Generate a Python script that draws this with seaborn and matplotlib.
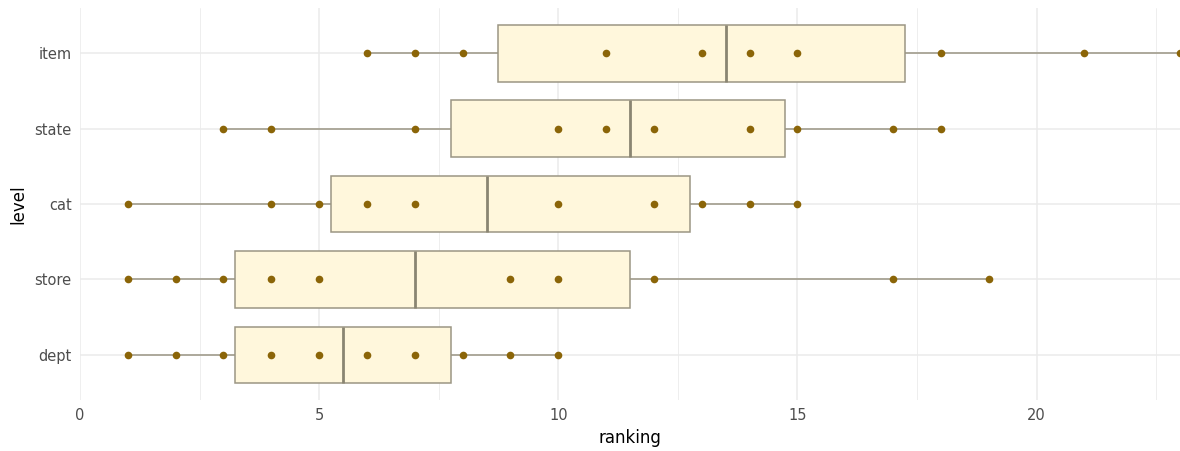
import numpy as np
import pandas as pd
import matplotlib
matplotlib.use("Agg")
import matplotlib.pyplot as plt
from matplotlib.ticker import MultipleLocator
import seaborn as sns

# rankings per aggregation level
levels = ["item", "state", "cat", "store", "dept"]
item_rank = [6, 7, 8, 11, 13, 14, 15, 18, 21, 23]
state_rank = [3, 4, 7, 10, 11, 12, 14, 15, 17, 18]
cat_rank = [1, 4, 5, 6, 7, 10, 12, 13, 14, 15]
store_rank = [1, 2, 3, 4, 5, 9, 10, 12, 17, 19]
dept_rank = [1, 2, 3, 4, 5, 6, 7, 8, 9, 10]

ranks = [item_rank, state_rank, cat_rank, store_rank, dept_rank]
df = pd.DataFrame({
    "level": np.repeat(levels, [len(r) for r in ranks]),
    "ranking": np.concatenate(ranks),
})

sns.set_style("white")
plt.rcParams["font.family"] = ["DejaVu Sans"]

fig = plt.figure(figsize=(11.8, 4.51), dpi=100)
ax = fig.add_axes([80 / 1180, 1 - 400 / 451, 1 - 80 / 1180, 392 / 451])

edge = "#9B9684"
sns.boxplot(data=df, x="ranking", y="level", order=levels, orient="h",
            width=0.75, whis=1.5, showfliers=False, showcaps=False,
            color="#FFF7DC", linecolor=edge, linewidth=1.1, saturation=1,
            medianprops={"color": "#8A8572", "linewidth": 2}, ax=ax)
sns.stripplot(data=df, x="ranking", y="level", order=levels, orient="h",
              jitter=False, color="#8B6508", size=5.5, ax=ax, zorder=5)

ax.set_xlim(0, 23)
ax.set_ylim(4.6, -0.6)
ax.xaxis.set_major_locator(MultipleLocator(5))
ax.xaxis.set_minor_locator(MultipleLocator(2.5))
ax.grid(True, which="major", axis="both", color="#EBEBEB", linewidth=1.1)
ax.grid(True, which="minor", axis="x", color="#EBEBEB", linewidth=0.6)
ax.set_axisbelow(True)
for s in ax.spines.values():
    s.set_visible(False)
ax.tick_params(axis="both", which="both", length=0, labelsize=10.5,
               labelcolor="#4D4D4D", pad=6)
ax.set_xlabel("ranking", fontsize=12, color="black", labelpad=4)
ax.set_ylabel("level", fontsize=12, color="black", labelpad=5)

fig.savefig("out.png", dpi=100)
